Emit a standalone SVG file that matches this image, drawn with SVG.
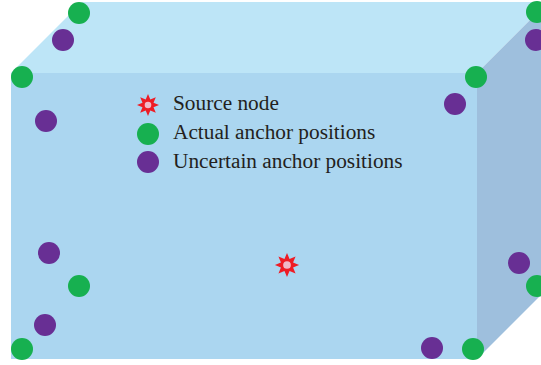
<svg xmlns="http://www.w3.org/2000/svg" width="541" height="365" viewBox="0 0 541 365">
<style>
.g{fill:#17b050}
.p{fill:#682f94}
.star{fill:#ee1c25}
.hole{fill:#f0b8c8}
.t{font-family:"Liberation Serif","Times New Roman",serif;font-size:21.3px;fill:#231f20}
</style>
<defs>
<polygon id="st" points="0,-11 2.3,-5.5 7.8,-7.8 5.5,-2.3 11,0 5.5,2.3 7.8,7.8 2.3,5.5 0,11 -2.3,5.5 -7.8,7.8 -5.5,2.3 -11,0 -5.5,-2.3 -7.8,-7.8 -2.3,-5.5"/>
</defs>
<rect width="541" height="365" fill="#ffffff"/>
<g id="box">
<polygon points="11,73 82,2 548,2 477,73" fill="#bde5f7"/>
<polygon points="477,73 548,2 548,288 477,359" fill="#9ebfdd"/>
<rect x="11" y="73" width="466" height="286" fill="#abd6f0"/>
</g>
<g id="anchors">
<g id="a1"><circle class="g" cx="79" cy="13" r="11"/></g>
<g id="a2"><circle class="g" cx="22" cy="77" r="11"/></g>
<g id="a3"><circle class="g" cx="476" cy="77" r="11"/></g>
<g id="a4"><circle class="g" cx="537" cy="12" r="11"/></g>
<g id="a5"><circle class="g" cx="79" cy="286" r="11"/></g>
<g id="a6"><circle class="g" cx="22" cy="349" r="11"/></g>
<g id="a7"><circle class="g" cx="473" cy="349" r="11"/></g>
<g id="a8"><circle class="g" cx="537" cy="286" r="11"/></g>
</g>
<g id="uncertain">
<g id="u1"><circle class="p" cx="63" cy="40" r="11"/></g>
<g id="u2"><circle class="p" cx="46" cy="121" r="11"/></g>
<g id="u3"><circle class="p" cx="455" cy="104" r="11"/></g>
<g id="u4"><circle class="p" cx="536" cy="40" r="11"/></g>
<g id="u5"><circle class="p" cx="49" cy="253" r="11"/></g>
<g id="u6"><circle class="p" cx="45" cy="325" r="11"/></g>
<g id="u7"><circle class="p" cx="432" cy="348" r="11"/></g>
<g id="u8"><circle class="p" cx="519" cy="263" r="11"/></g>
</g>
<g id="source">
<g transform="translate(287,265) scale(1.1)"><use href="#st" class="star"/><circle class="hole" r="3.5"/></g>
</g>
<g id="legend">
<g transform="translate(148,105)"><use href="#st" class="star"/><circle class="hole" r="3.3"/></g>
<circle class="g" cx="148" cy="134" r="11"/>
<circle class="p" cx="148" cy="162" r="11"/>
<text class="t" x="173" y="110">Source node</text>
<text class="t" x="173" y="139">Actual anchor positions</text>
<text class="t" x="173" y="168">Uncertain anchor positions</text>
</g>
</svg>
